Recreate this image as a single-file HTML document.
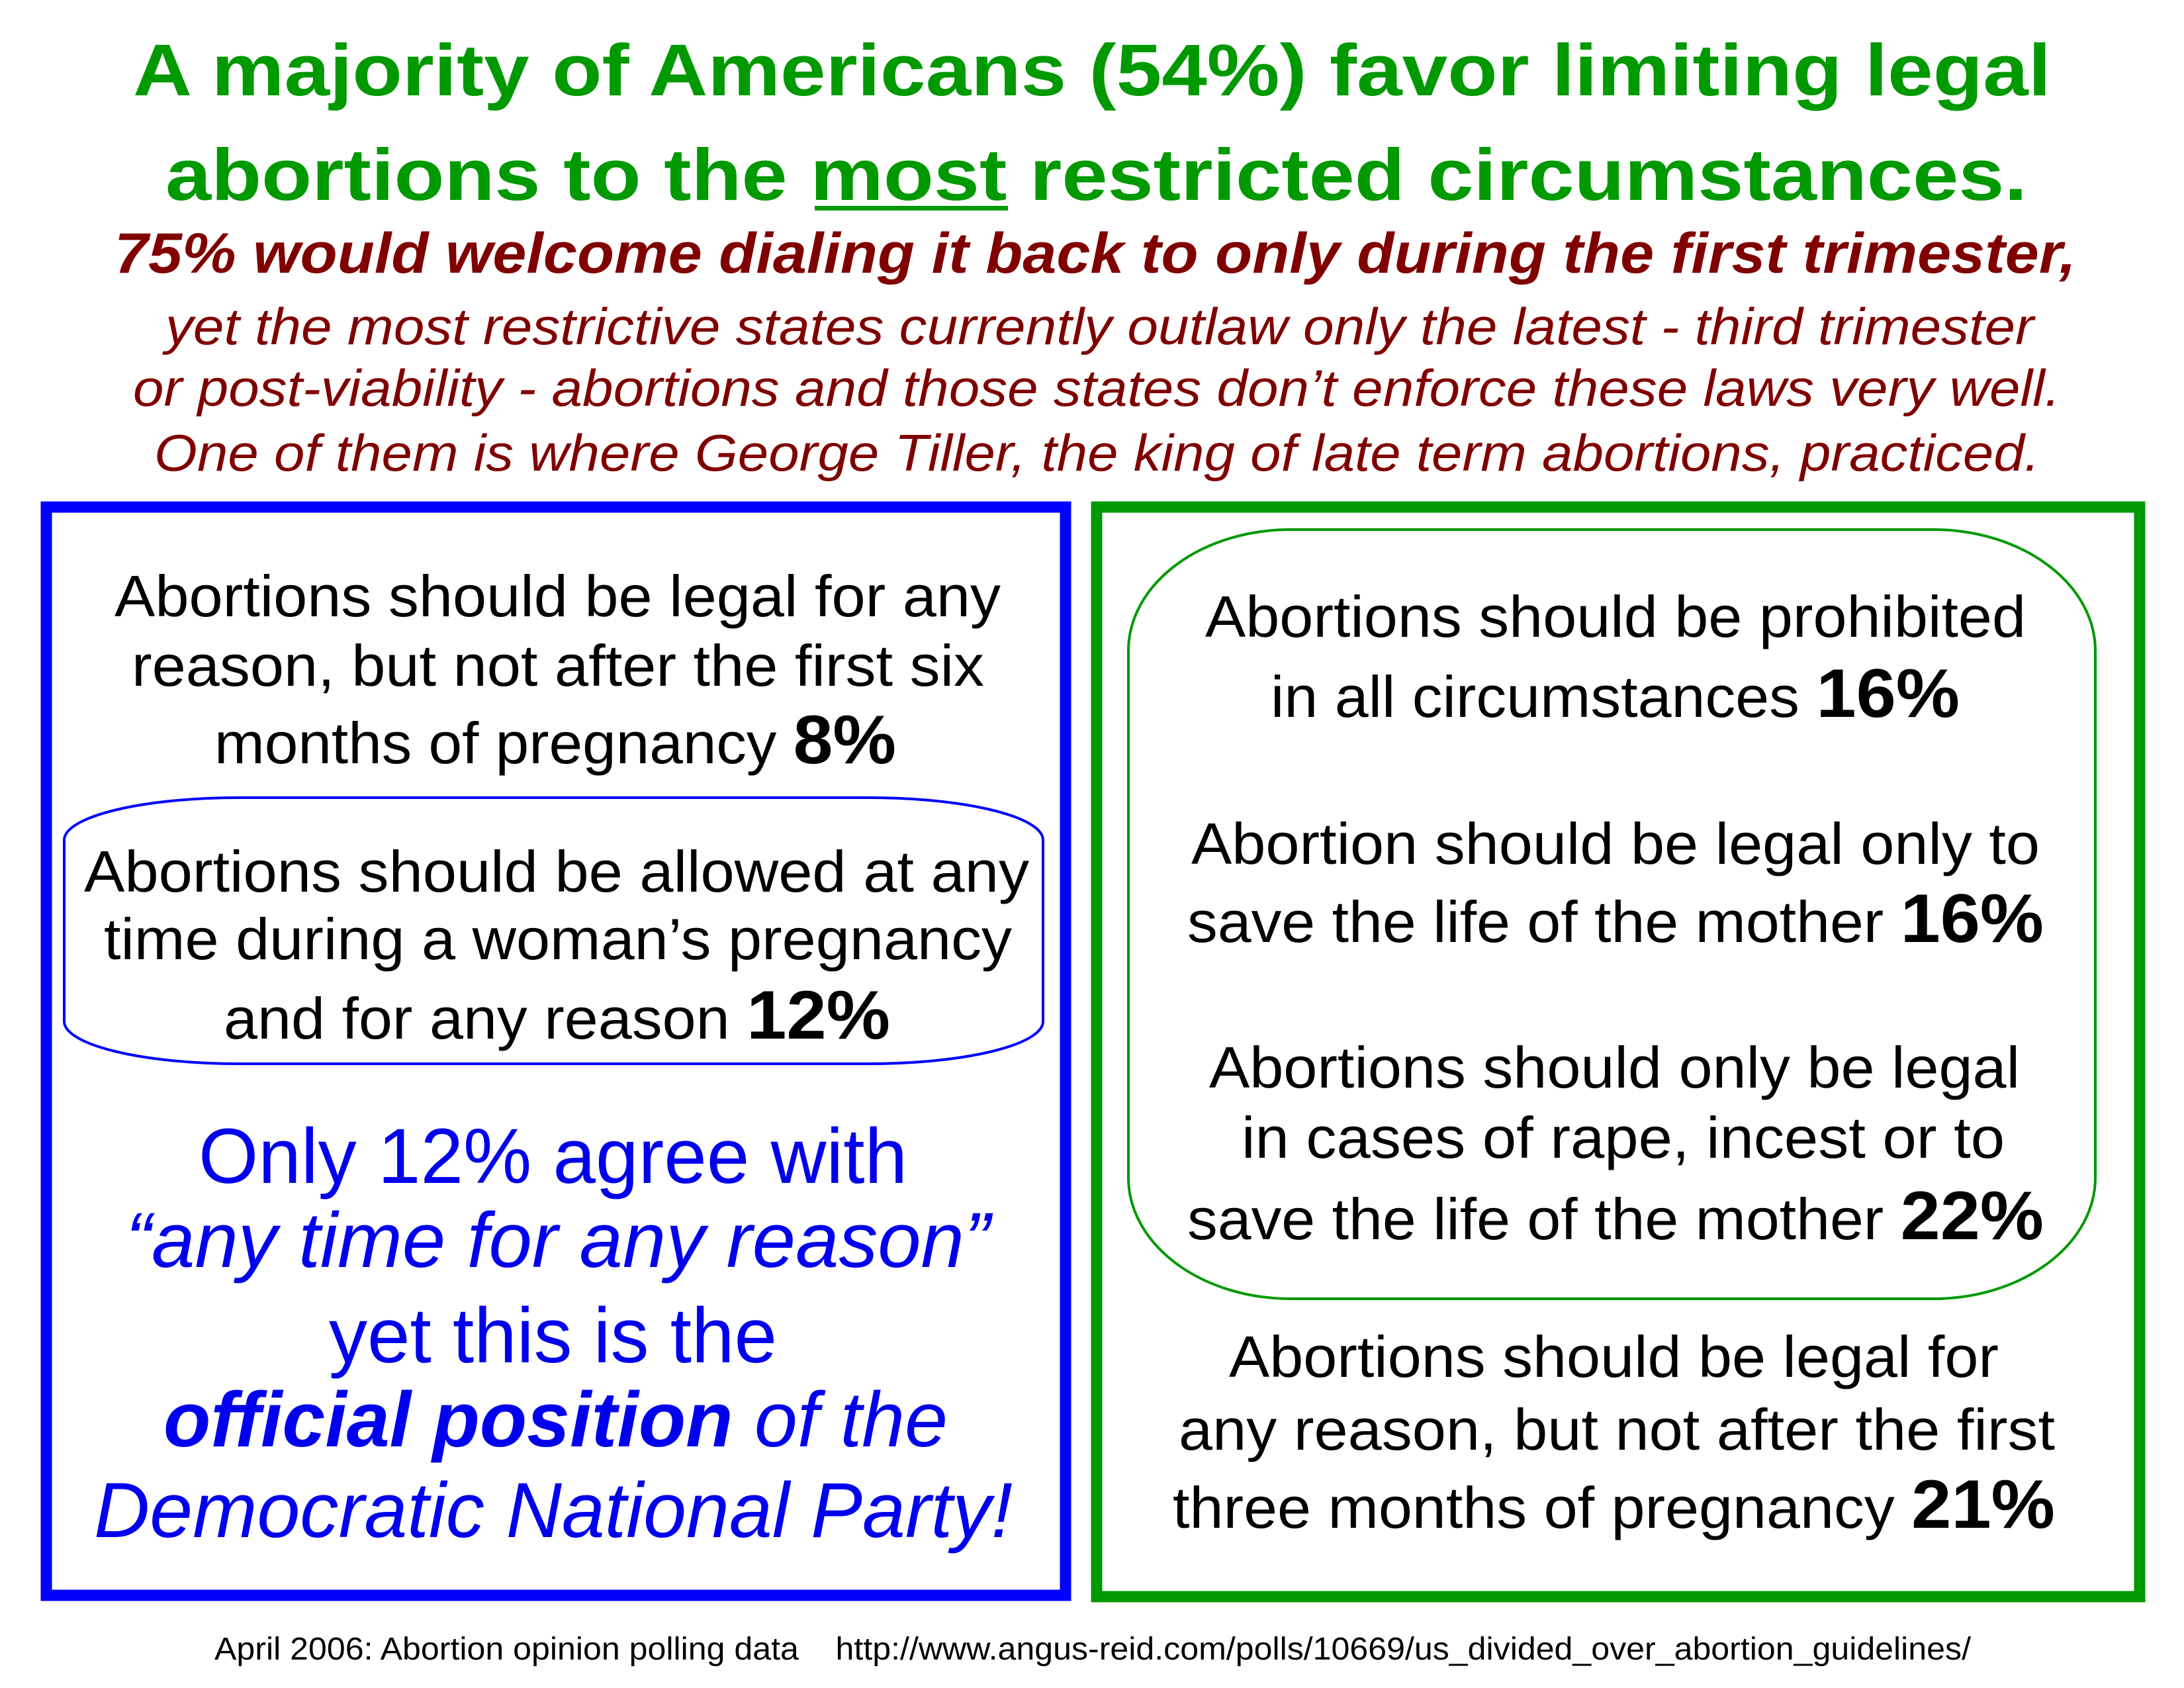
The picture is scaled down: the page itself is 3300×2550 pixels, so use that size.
<!DOCTYPE html>
<html><head><meta charset="utf-8"><style>
html,body{margin:0;padding:0;background:#fff;}
svg{display:block;}
text{font-family:"Liberation Sans",Arial,sans-serif;}
</style></head><body>
<svg width="3300" height="2550" viewBox="0 0 3300 2550" xmlns="http://www.w3.org/2000/svg">
<rect width="3300" height="2550" fill="#fff"/>
<g fill="#009900" font-weight="bold" font-size="110">
<text x="201" y="144" textLength="2898" lengthAdjust="spacingAndGlyphs">A majority of Americans (54%) favor limiting legal</text>
<text x="250" y="302" textLength="2813" lengthAdjust="spacingAndGlyphs">abortions to the most restricted circumstances.</text>
</g>
<rect x="1231" y="311" width="292" height="7" fill="#009900"/>
<g fill="#800000" font-style="italic">
<text x="173" y="412" font-size="86" font-weight="bold" textLength="2964" lengthAdjust="spacingAndGlyphs">75% would welcome dialing it back to only during the first trimester,</text>
<text x="250" y="520" font-size="78" textLength="2823" lengthAdjust="spacingAndGlyphs">yet the most restrictive states currently outlaw only the latest - third trimester</text>
<text x="201" y="613" font-size="78" textLength="2912" lengthAdjust="spacingAndGlyphs">or post-viability - abortions and those states don’t enforce these laws very well.</text>
<text x="233" y="711" font-size="78" textLength="2849" lengthAdjust="spacingAndGlyphs">One of them is where George Tiller, the king of late term abortions, practiced.</text>
</g>
<rect x="70" y="766" width="1540" height="1644" fill="none" stroke="#0000ff" stroke-width="17"/>
<rect x="1657" y="766" width="1576" height="1646" fill="none" stroke="#009900" stroke-width="17"/>
<rect x="97" y="1205" width="1479" height="402" rx="263" ry="64" fill="none" stroke="#0000ff" stroke-width="4"/>
<rect x="1705" y="800" width="1461" height="1162" rx="245" ry="183" fill="none" stroke="#009900" stroke-width="4"/>
<g fill="#000" font-size="88">
<text x="173" y="931" textLength="1339" lengthAdjust="spacingAndGlyphs">Abortions should be legal for any</text>
<text x="199" y="1036" textLength="1288" lengthAdjust="spacingAndGlyphs">reason, but not after the first six</text>
<text x="324" y="1153" textLength="1030" lengthAdjust="spacingAndGlyphs">months of pregnancy <tspan font-weight="bold" font-size="104">8%</tspan></text>
<text x="127" y="1347" textLength="1428" lengthAdjust="spacingAndGlyphs">Abortions should be allowed at any</text>
<text x="157" y="1449" textLength="1372" lengthAdjust="spacingAndGlyphs">time during a woman’s pregnancy</text>
<text x="338" y="1569" textLength="1007" lengthAdjust="spacingAndGlyphs">and for any reason <tspan font-weight="bold" font-size="104">12%</tspan></text>

<text x="1821" y="962" textLength="1240" lengthAdjust="spacingAndGlyphs">Abortions should be prohibited</text>
<text x="1920" y="1083" textLength="1041" lengthAdjust="spacingAndGlyphs">in all circumstances <tspan font-weight="bold" font-size="104">16%</tspan></text>
<text x="1800" y="1305" textLength="1282" lengthAdjust="spacingAndGlyphs">Abortion should be legal only to</text>
<text x="1794" y="1423" textLength="1294" lengthAdjust="spacingAndGlyphs">save the life of the mother <tspan font-weight="bold" font-size="104">16%</tspan></text>
<text x="1827" y="1643" textLength="1225" lengthAdjust="spacingAndGlyphs">Abortions should only be legal</text>
<text x="1876" y="1749" textLength="1153" lengthAdjust="spacingAndGlyphs">in cases of rape, incest or to</text>
<text x="1794" y="1872" textLength="1294" lengthAdjust="spacingAndGlyphs">save the life of the mother <tspan font-weight="bold" font-size="104">22%</tspan></text>
<text x="1857" y="2080" textLength="1163" lengthAdjust="spacingAndGlyphs">Abortions should be legal for</text>
<text x="1781" y="2190" textLength="1324" lengthAdjust="spacingAndGlyphs">any reason, but not after the first</text>
<text x="1772" y="2308" textLength="1333" lengthAdjust="spacingAndGlyphs">three months of pregnancy <tspan font-weight="bold" font-size="104">21%</tspan></text>
</g>
<g fill="#0000ee" font-size="118">
<text x="300" y="1787" textLength="1071" lengthAdjust="spacingAndGlyphs">Only 12% agree with</text>
<text x="190" y="1914" font-style="italic" textLength="1306" lengthAdjust="spacingAndGlyphs">“any time for any reason”</text>
<text x="497" y="2058" textLength="677" lengthAdjust="spacingAndGlyphs">yet this is the</text>
<text x="247" y="2185" font-style="italic" textLength="1185" lengthAdjust="spacingAndGlyphs"><tspan font-weight="bold">official position</tspan> of the</text>
<text x="142" y="2322" font-style="italic" textLength="1388" lengthAdjust="spacingAndGlyphs">Democratic National Party!</text>
</g>
<text x="324" y="2507" font-size="48" fill="#000" textLength="2654" lengthAdjust="spacingAndGlyphs" xml:space="preserve">April 2006: Abortion opinion polling data    http://www.angus-reid.com/polls/10669/us_divided_over_abortion_guidelines/</text>
</svg>
</body></html>
